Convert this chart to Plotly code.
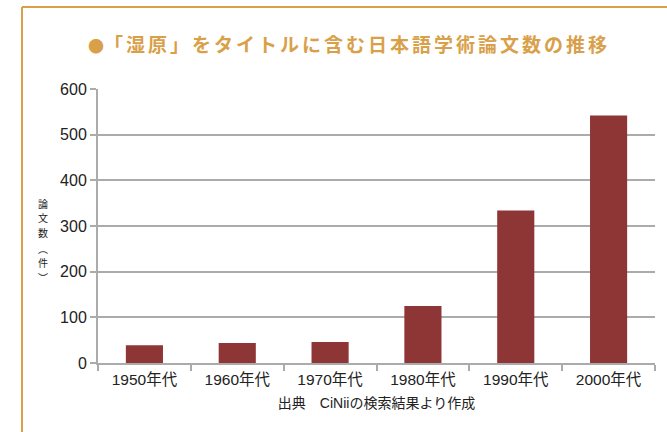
import plotly.graph_objects as go

categories = ["1950年代", "1960年代", "1970年代", "1980年代", "1990年代", "2000年代"]
counts = [39, 44, 46, 125, 334, 542]
y_ticks = [0, 100, 200, 300, 400, 500, 600]

title_dot = "●"
title_text = "「湿原」をタイトルに含む日本語学術論文数の推移"
x_title = "出典　CiNiiの検索結果より作成"
y_title_chars = [("論", 203), ("文", 217.6), ("数", 232.2), ("︵", 248), ("件", 262.6), ("︶", 277.2)]

W, H = 667, 432
ml, mr, mt, mb = 98, 12, 89, 69
pw, ph = W - ml - mr, H - mt - mb

def px(x):
    return (x - ml) / pw

def py(y):
    return (H - mb - y) / ph

font_fam = "Liberation Sans, Arial, Noto Sans CJK JP, sans-serif"
grey = "#ababab"
orange = "#D9A04A"

fig = go.Figure(go.Bar(x=categories, y=counts, marker=dict(color="#8E3636", line=dict(width=0))))

fig.update_layout(
    width=W, height=H,
    margin=dict(l=ml, r=mr, t=mt, b=mb),
    paper_bgcolor="white", plot_bgcolor="white",
    bargap=0.6,
    showlegend=False,
    font=dict(family=font_fam, size=15, color="#222"),
)
fig.update_xaxes(
    type="category",
    showline=True, linecolor=grey, linewidth=2,
    ticks="outside", tickson="boundaries", ticklen=6, tickcolor=grey, tickwidth=1.5,
    ticklabelstandoff=1,
    showgrid=False,
    tickfont=dict(size=15.5, family=font_fam, color="#222"),
    title=dict(text=x_title, font=dict(size=14, family=font_fam, color="#222"), standoff=12),
)
fig.update_yaxes(
    range=[0, 600], tickvals=y_ticks,
    showline=True, linecolor=grey, linewidth=2,
    ticks="outside", ticklen=6, tickcolor=grey, tickwidth=1.5,
    showgrid=True, gridcolor=grey, gridwidth=2,
    zeroline=False,
    tickfont=dict(size=16, family=font_fam, color="#222"),
)

# Frame lines
fig.add_shape(type="line", xref="paper", yref="paper",
              x0=px(22), x1=px(22), y0=py(7), y1=py(440),
              line=dict(color=orange, width=2))
fig.add_shape(type="line", xref="paper", yref="paper",
              x0=px(22), x1=px(680), y0=py(7), y1=py(7),
              line=dict(color=orange, width=2))

# Title
title_html = ('<span style="font-size:16px">' + title_dot + '</span>'
              + '<span style="letter-spacing:3px"><b>' + title_text + '</b></span>')
fig.add_annotation(text=title_html, xref="paper", yref="paper",
                   x=px(349), y=py(43), xanchor="center", yanchor="middle",
                   showarrow=False,
                   font=dict(size=19, color=orange, family="Noto Sans CJK JP, sans-serif"))

# Vertical y-axis title, one character at a time
for ch, yc in y_title_chars:
    fig.add_annotation(text=ch, xref="paper", yref="paper",
                       x=px(43), y=py(yc), xanchor="center", yanchor="middle",
                       showarrow=False, borderpad=0,
                       font=dict(size=10, color="#222", family="Noto Sans CJK JP, sans-serif"))

fig.write_html("out.html")
